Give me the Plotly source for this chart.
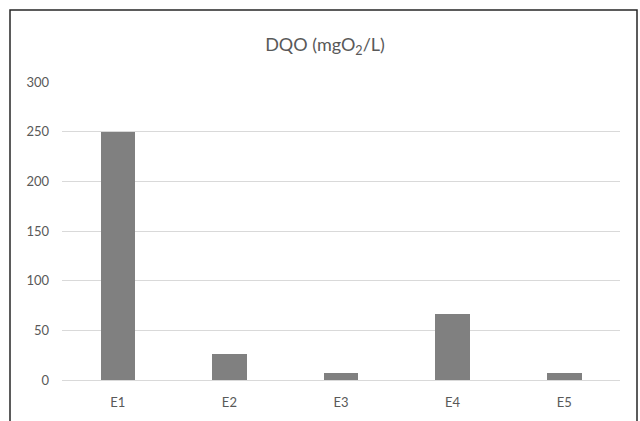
import plotly.graph_objects as go

categories = ["E1", "E2", "E3", "E4", "E5"]
values = [250, 26, 7, 66, 7]
y_ticks = [0, 50, 100, 150, 200, 250, 300]

W, H = 640, 421
L, R, T, B = 62, 20, 82, 41
pw, ph = W - L - R, H - T - B

fig = go.Figure(go.Bar(
    x=categories, y=values, marker=dict(color="#808080", line=dict(width=0)),
    width=0.31,
))

fig.update_layout(
    width=W, height=H,
    margin=dict(l=L, r=R, t=T, b=B),
    paper_bgcolor="white", plot_bgcolor="white",
    font=dict(family="Lato, 'Open Sans', sans-serif", color="#595959", size=12),
    title=dict(text="DQO (mgO<sub>2</sub>/L)", x=(325 - 0) / W, xanchor="center",
               y=1 - 45 / H, yanchor="middle",
               font=dict(size=18, color="#595959")),
    showlegend=False,
    bargap=0,
)
fig.update_yaxes(range=[0, 300], tickvals=y_ticks, showgrid=True, gridcolor="#d9d9d9",
                 gridwidth=1, zeroline=False, showline=False, ticks="", ticklabelstandoff=12,
                 tickfont=dict(size=13))
fig.update_xaxes(showline=True, linecolor="#d9d9d9", linewidth=1, ticks="",
                 ticklabelstandoff=10, tickfont=dict(size=13))

fig.add_shape(type="rect", xref="paper", yref="paper",
              x0=(10 - L) / pw, x1=(637 - L) / pw,
              y0=(H - B - 430) / ph, y1=(H - B - 10) / ph,
              line=dict(color="#262626", width=1.5), fillcolor="rgba(0,0,0,0)", layer="above")

fig.write_html("out.html")
